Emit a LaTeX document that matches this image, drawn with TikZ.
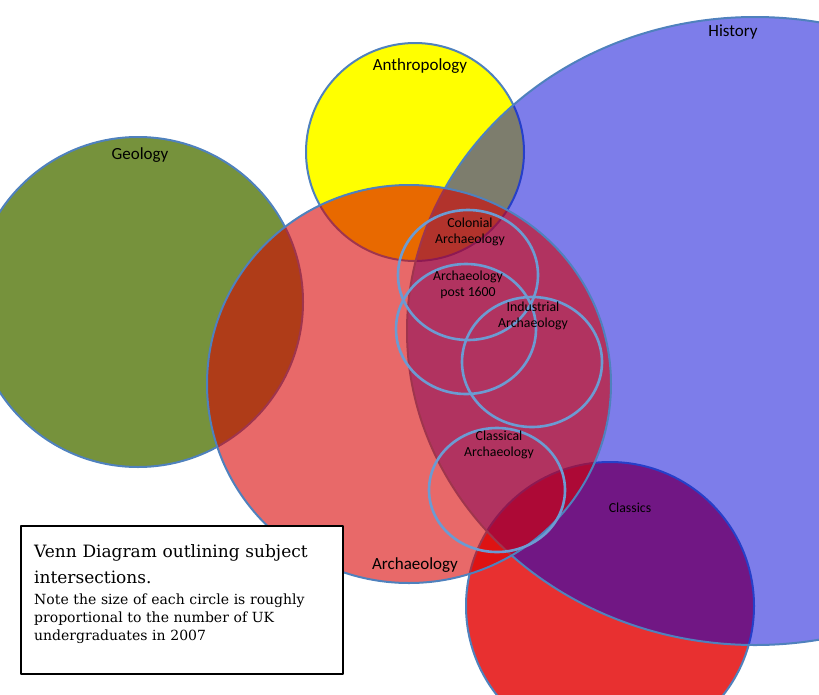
\documentclass[tikz,border=0pt]{standalone}
\usepackage{fontspec}
\setmainfont{Carlito}
\newfontfamily\notefont{DejaVu Serif}
\usetikzlibrary{positioning}
\definecolor{geology_green}{RGB}{118,146,60}
\definecolor{anthro_yellow}{RGB}{255,255,0}
\definecolor{classics_red}{RGB}{232,48,48}
\definecolor{history_blue}{RGB}{0,0,214}
\definecolor{archaeo_red}{RGB}{216,0,0}
\definecolor{rim_blue}{RGB}{79,129,189}
\definecolor{ring_blue}{RGB}{108,155,210}
\tikzset{
	rim/.style={draw=rim_blue,line width=2pt},
	ring/.style={draw=ring_blue,line width=2.6pt},
	biglabel/.style={font=\fontsize{17}{20}\selectfont},
	smalllabel/.style={font=\fontsize{13.8}{16.5}\selectfont,align=center},
	notetext/.style={anchor=base west,inner sep=0pt,text width=300pt,align=left}
}

\begin{document}
\begin{tikzpicture}[x=1pt,y=-1pt,line join=round,line cap=round]
		\useasboundingbox (0,0) rectangle (819,694);
		\clip (0,0) rectangle (819,694);
		% subject circles, back to front
		\filldraw[rim,fill=geology_green] (138,302) circle [radius=165pt];
		\filldraw[rim,fill=anthro_yellow] (415,152) circle [radius=109pt];
		\filldraw[rim,fill=classics_red] (610,606) circle [radius=144pt];
		\filldraw[rim,fill=history_blue,fill opacity=.51] (755,331) ellipse [x radius=348pt,y radius=314pt];
		\filldraw[rim,fill=archaeo_red,fill opacity=.59] (409,384) ellipse [x radius=202pt,y radius=199pt];
		% sub-field rings
		\foreach\cx/\cy/\rx/\ry in {468/275/70/65,466/329/70/65,532/362/70/65,497/490/68/62}
			\draw[ring] (\cx,\cy) ellipse [x radius=\rx pt,y radius=\ry pt];
		\node[biglabel] (history)      at (733,32)  {History};
		\node[biglabel] (anthropology) at (420,66)  {Anthropology};
		\node[biglabel] (geology)      at (140,155) {Geology};
		\node[biglabel] (archaeology)  at (415,565) {Archaeology};
		\node[smalllabel] (classics)   at (630,508) {Classics};
		\node[smalllabel] (colonial)   at (470,232) {Colonial\\Archaeology};
		\node[smalllabel] (post1600)   at (468,285) {Archaeology\\post 1600};
		\node[smalllabel] (industrial) at (533,316) {Industrial\\Archaeology};
		\node[smalllabel] (classical)  at (499,445) {Classical\\Archaeology};
		% caption box
		\node[draw=black,line width=1.5pt,fill=white,minimum width=322pt,minimum height=148pt,inner sep=0pt] (notebox) at (182,600) {};
		\node[notetext,font=\notefont\fontsize{17}{26}\selectfont] (notetitle) at (34,557)
			{Venn Diagram outlining subject\\intersections.};
		\node[notetext,font=\notefont\fontsize{14}{18}\selectfont] (notebody) at (34,604)
			{Note the size of each circle is roughly\\proportional to the number of UK\\undergraduates in 2007};
	\end{tikzpicture}
\end{document}
